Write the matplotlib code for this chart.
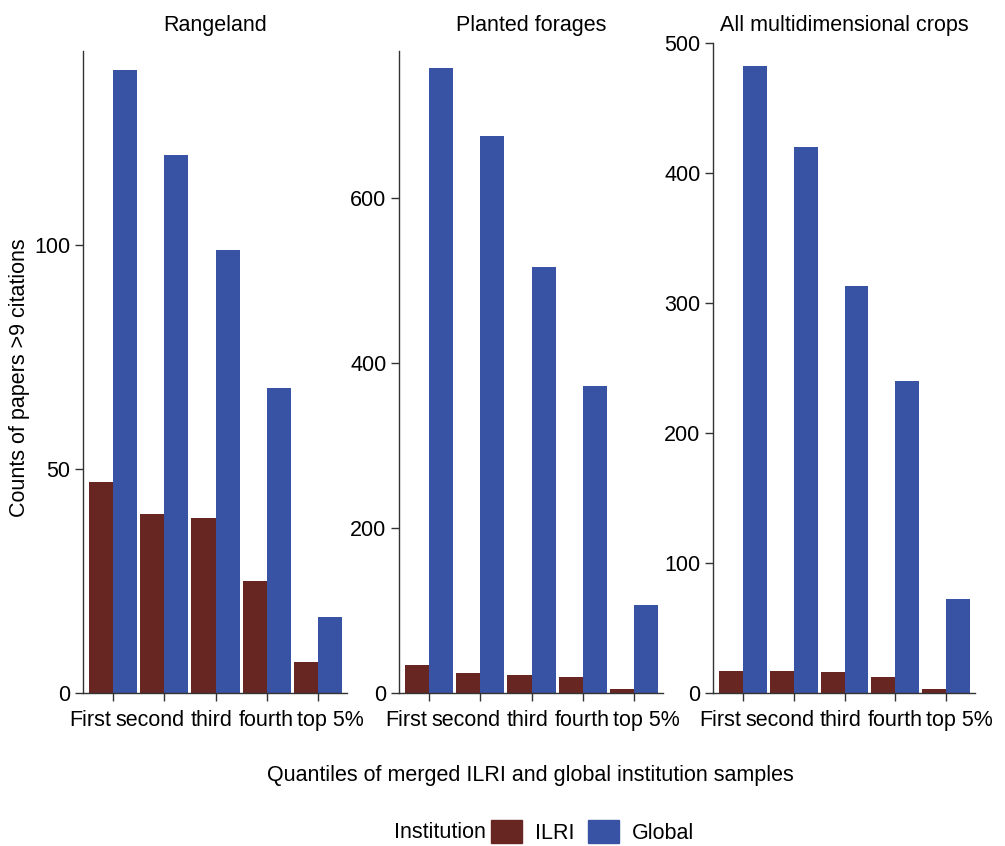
import numpy as np
import matplotlib
matplotlib.use("Agg")
import matplotlib.pyplot as plt
from matplotlib.patches import Patch
from matplotlib.transforms import ScaledTranslation

plt.rcParams['font.family'] = ['Liberation Sans', 'DejaVu Sans']

quantiles = ["First", "second", "third", "fourth", "top 5%"]
panels = ["Rangeland", "Planted forages", "All multidimensional crops"]

ilri_range = [47, 40, 39, 25, 7]
global_range = [139, 120, 99, 68, 17]
ilri_forage = [34, 24, 22, 19, 5]
global_forage = [758, 675, 516, 372, 107]
ilri_crops = [17, 17, 16, 12, 3]
global_crops = [482, 420, 313, 240, 72]

yticks = [[0, 50, 100], [0, 200, 400, 600], [0, 100, 200, 300, 400, 500]]
ylims = [145.1, 788, 500]
spine_tops = [143.3, 778, 500]

ilri_col = "#672622"
glob_col = "#3953a4"
W, H = 1005, 846
FS = 15.5

fig = plt.figure(figsize=(W / 100, H / 100), dpi=100)

# axes boxes in pixels: left, right
boxes = [(83, 347), (399, 663), (713, 975)]
top_px, bot_px = 43, 693
# label shifts in px (labels are packed, not centred on ticks)
shifts = [-23, -14, -4, 0, 13]

data = [(ilri_range, global_range), (ilri_forage, global_forage), (ilri_crops, global_crops)]
x = np.arange(len(quantiles))
bw = 0.47

for i, (l, r) in enumerate(boxes):
    ax = fig.add_axes([l / W, 1 - bot_px / H, (r - l) / W, (bot_px - top_px) / H])
    il, gl = data[i]
    ax.bar(x - bw / 2, il, width=bw, color=ilri_col, linewidth=0)
    ax.bar(x + bw / 2, gl, width=bw, color=glob_col, linewidth=0)
    ax.set_xlim(-0.59, 4.57)
    ax.set_ylim(0, ylims[i])
    ax.set_yticks(yticks[i])
    ax.set_xticks(x)
    ax.set_xticklabels([])
    for xi, lab, s in zip(x, quantiles, shifts):
        tr = ax.get_xaxis_transform() + ScaledTranslation(s / 100, -17 / 100, fig.dpi_scale_trans)
        ax.text(xi, 0, lab, transform=tr, ha='center', va='top', fontsize=FS)
    ax.tick_params(axis='y', labelsize=FS, length=6, width=1, color='#333333', pad=3)
    ax.tick_params(axis='x', length=6, width=1, color='#333333')
    for sp in ['top', 'right']:
        ax.spines[sp].set_visible(False)
    for sp in ['left', 'bottom']:
        ax.spines[sp].set_color('#333333')
        ax.spines[sp].set_linewidth(1)
    ax.spines['left'].set_bounds(0, spine_tops[i])
    fig.text((l + r) / 2 / W, 1 - 25 / H, panels[i], ha='center', va='center', fontsize=FS)

fig.text(20 / W, 1 - 378 / H, "Counts of papers >9 citations", rotation=90,
         ha='center', va='center', fontsize=FS)
fig.text(530 / W, 1 - 775 / H, "Quantiles of merged ILRI and global institution samples",
         ha='center', va='center', fontsize=FS)

fig.text(440 / W, 1 - 832 / H, "Institution", ha='center', va='center', fontsize=FS)
handles = [Patch(color=ilri_col, label="ILRI"), Patch(color=glob_col, label="Global")]
fig.legend(handles=handles, loc='center left', bbox_to_anchor=(491 / W, 1 - 832 / H),
           ncol=2, frameon=False, fontsize=FS, handlelength=1.45, handleheight=1.3,
           handletextpad=0.6, columnspacing=0.6, borderaxespad=0, borderpad=0)

fig.savefig("out.png", dpi=100)
